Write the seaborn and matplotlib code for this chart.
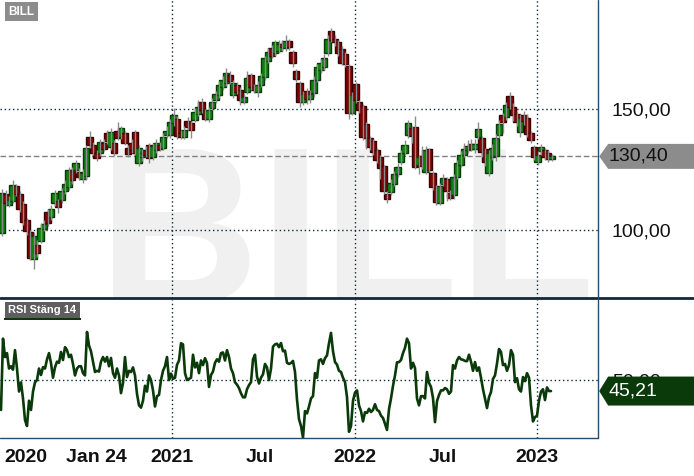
import matplotlib
matplotlib.use("Agg")
import matplotlib.pyplot as plt
import matplotlib.dates as mdates
from matplotlib.lines import Line2D
from matplotlib.patches import Polygon, Rectangle
from matplotlib.transforms import blended_transform_factory
import numpy as np
import pandas as pd
import seaborn as sns

# weekly candles, BILL
candle_start = "2020-01-27"
opens = [
    98.8, 115, 110.5, 112, 118, 115, 110.7, 104, 99, 88,
    94, 95.5, 100.4, 107.4, 105.4, 111.2, 112, 112.4, 116, 117.8,
    124.8, 124.8, 124, 121, 122.3, 138.4, 135, 132, 131.8, 136,
    140, 134.3, 136, 141, 138.4, 140, 134, 136, 140.5, 127.7,
    130, 133, 135, 130, 133, 135, 134, 139.2, 139.2, 144.2,
    146, 140, 138.5, 145, 144, 145.5, 148, 153, 149, 146,
    150.5, 153.7, 155.8, 159, 160.7, 164, 155.8, 160, 157.8, 153,
    157, 164, 159, 157, 160, 163, 170, 175, 173, 174,
    177, 175, 178, 173.5, 165.7, 160.7, 153, 157.5, 154, 156.6,
    162, 166, 167.4, 173, 182, 179, 177.7, 174.8, 172.7, 167.8,
    148.5, 160.3, 152.9, 151.2, 143.8, 138, 136.8, 133, 130, 126.4,
    115, 115.7, 119, 123, 128, 132, 139.3, 142, 142.6, 127,
    130.5, 124, 133.5, 123.5, 117.5, 111.2, 119, 121, 115.3, 114.5,
    122, 127, 131, 133, 135.5, 133.5, 138.4, 138, 133.5, 123.5,
    130, 130.6, 139.3, 147.5, 146.7, 155.4, 151, 147.8, 140.5, 147.5,
    146.3, 140, 134.3, 128, 132.5, 133, 131.8, 129.5,
]
closes = [
    115.3, 111, 112.5, 118.5, 115, 108.6, 103.3, 99.6, 88.5, 97.5,
    90.5, 101, 102.5, 102.9, 108.7, 115.3, 109.5, 116, 119, 124.8,
    120.7, 127.7, 122, 123.5, 134, 135.1, 132, 129.7, 136.4, 133.5,
    136.8, 140.5, 131.8, 138, 142, 136, 131.5, 133, 132, 134,
    132, 131, 129.7, 134.7, 136, 133.5, 138.4, 141, 144.6, 147.5,
    139, 138.5, 141.5, 142.5, 141.5, 148.8, 151, 149.6, 146, 149.5,
    153, 156, 160, 162, 165, 161.5, 160.7, 157, 153.7, 155,
    162.8, 159, 158, 160, 163.5, 171, 173.5, 172, 177.5, 177,
    175.5, 178, 175.6, 169, 162.4, 153, 156, 154, 156, 162,
    167.4, 169, 171, 179, 178.5, 177.5, 173, 169, 168.6, 148.3,
    155.8, 153.7, 149.6, 138.4, 138, 134.3, 132.2, 129, 125.6, 116,
    112.8, 119.4, 123, 126, 131.8, 135, 144.2, 139, 126, 130,
    126.5, 133, 124.8, 117.8, 111.5, 118, 121.5, 116, 113.3, 122,
    127.7, 131, 133.5, 134.7, 133.5, 135.5, 141.7, 132.2, 128, 131.8,
    134, 138, 143.8, 144.6, 151.7, 150.8, 147.5, 144.6, 146.3, 145,
    139.7, 137.2, 130.2, 131, 134.3, 130.2, 129.3, 130.4,
]
highs = [
    117, 116.5, 114, 120.5, 119, 116, 112, 105, 100, 99,
    96, 103, 104, 108.5, 110.5, 116.5, 113, 117.5, 120.5, 126,
    126, 129, 125.5, 125, 135, 141, 136.5, 133, 137.5, 137.5,
    141.5, 142, 137, 144.5, 143, 141, 135, 137.5, 141.5, 135,
    133.5, 134.5, 136, 136, 137.5, 136.5, 140, 143, 146, 150.5,
    147, 141.5, 143, 146.5, 145, 150.5, 153.5, 154.5, 150, 151,
    154.5, 157.5, 161.5, 163.5, 167, 165.5, 162, 161, 159, 156.5,
    165.5, 165, 160.5, 161.5, 165, 172, 175, 176.5, 178.5, 178.5,
    178.5, 180.5, 179, 174.5, 166.5, 161.5, 157.5, 158.5, 158, 163.5,
    168.5, 170.5, 172.5, 180.5, 183.5, 180.5, 178.5, 176, 173.5, 168.5,
    157, 161, 153.5, 152, 144.5, 139, 137.5, 134, 131, 127,
    116, 121, 124.5, 127.5, 133, 137, 145.5, 143, 147, 131,
    134.5, 134.5, 134, 124.5, 118.5, 119.5, 123, 122, 116.5, 123,
    129, 132.5, 136, 137, 137.5, 137.5, 144.5, 139, 134, 133,
    135.5, 139.5, 145.5, 148.5, 153, 157, 152.5, 149, 148, 149,
    148, 141, 135, 132.5, 135.5, 134, 133, 131.5,
]
lows = [
    97.5, 110, 109.5, 111, 114, 107.5, 102, 98, 87.5, 84,
    89, 94.5, 99.5, 101.5, 104, 110, 107, 111, 115, 116.5,
    119, 123.5, 120.5, 119.5, 120.5, 134, 131, 128.5, 130.5, 132.5,
    135.5, 133, 130.5, 137, 137.5, 135, 130, 132, 131, 126.5,
    128.5, 130, 127.5, 129, 132, 132.5, 133, 138, 138, 143,
    137.5, 137.5, 137.5, 141.5, 138, 144.5, 147, 148.5, 145, 144.5,
    149.5, 152.5, 154.5, 158, 159.5, 160.5, 154.5, 156, 151.5, 152,
    156, 158, 156.5, 155, 159, 162, 169, 171, 172, 173,
    174, 174, 174.5, 167.5, 161, 151, 151.5, 152, 152.5, 155,
    161, 165, 166, 172, 177.5, 176, 172, 168, 167.5, 146,
    147.5, 152.5, 148.5, 137, 133.5, 133, 131, 127.5, 121, 115,
    111, 114.5, 118, 122, 127, 131, 138, 136, 125, 123,
    125, 123, 124, 116.5, 110.5, 110.5, 118, 112, 112.5, 113,
    121, 126, 130, 132, 132.5, 132, 137.5, 130, 126.5, 122.5,
    129, 128.5, 138, 140, 145.5, 150, 145, 143, 138.5, 143.5,
    138.5, 136, 129, 127, 131, 129, 128, 128.5,
]

# RSI (close, 14), sampled every 4 days
rsi_start = "2020-01-25"
rsi_values = [
    37, 68, 60, 61.7, 55, 56, 54.5, 63, 55, 45,
    49, 42, 32.6, 30, 41, 37, 45, 49, 50, 55,
    52.2, 55.6, 55, 59, 61.7, 57.4, 51, 55.5, 58, 57.5,
    62.2, 58.7, 64.3, 63, 60, 61, 57, 52, 55, 56,
    56, 53, 52, 70.9, 65, 62.5, 58, 53.5, 54, 53.7,
    58, 60, 58, 60, 56, 59.6, 53, 51, 55, 52,
    44.3, 48.7, 60, 51.3, 54, 53.5, 55.5, 52, 44, 39,
    38, 41, 47.5, 45, 52, 50, 45.5, 38.5, 43, 43.5,
    50, 54, 56, 60, 50, 52.8, 50.5, 51, 56.6, 58.5,
    66, 65.5, 53, 50, 50.5, 51, 61, 55.5, 57.5, 53,
    58.5, 56.5, 59.5, 57.4, 47, 52.2, 53.7, 57.5, 59, 58,
    61.7, 62, 58.5, 63, 60, 55, 53, 49, 48, 46.5,
    44.2, 42.5, 42.5, 46, 47.8, 49.1, 59, 61, 51.5, 48.5,
    51, 52.5, 57, 55.5, 50, 55, 64.5, 65.5, 65.8, 64.3,
    66.1, 62.5, 62.8, 57.5, 57, 57.4, 58.3, 53.5, 41.5, 33,
    30, 25, 36.5, 35.5, 38.5, 42, 43, 53, 51, 58.5,
    59, 57, 59.5, 60.7, 66, 70.5, 62.5, 57.8, 56.7, 54,
    53.5, 51, 49.1, 42.6, 27.5, 30, 41, 44.5, 45.5, 39,
    36.5, 32, 36, 35.7, 37.5, 36.1, 37, 39.5, 37, 36.5,
    34.5, 33.5, 31, 28.3, 37.3, 42, 47.5, 52, 57.7, 57.8,
    58.7, 61.7, 64, 68, 66, 55, 57.5, 55.2, 42, 39,
    43, 43, 42, 53.5, 48.8, 47, 42.2, 31.7, 40.8, 43.5,
    45.5, 45.5, 46.5, 46, 44, 45, 56.5, 55, 58.5, 60,
    59, 58.8, 58.3, 58.2, 61, 58, 54, 57.8, 54, 55.5,
    51, 46, 42, 37.8, 42.5, 44.8, 50.5, 52, 57.2, 63.5,
    62.2, 56.5, 57, 54, 56.5, 63, 61, 49.1, 50.8, 46,
    45, 51.3, 49.5, 53, 51, 39, 32, 33.9, 34.5, 41,
    45, 46, 41.3, 46.8, 45.2, 45.21,
]

last_price = 130.40
last_price_label = "130,40"
last_rsi_label = "45,21"
price_ticks = [100, 150]
price_labels = ["100,00", "150,00"]
rsi_ticks = [50]
rsi_labels = ["50,00"]
date_ticks = ["2020-01-31", "2020-08-02", "2021-01-01", "2021-06-26",
              "2022-01-01", "2022-06-27", "2023-01-01"]
date_labels = ["2020", "Jan 24", "2021", "Jul", "2022", "Jul", "2023"]
event_dates = ["2020-05-06", "2021-05-05", "2022-05-11", "2022-05-29"]
grid_dates = ["2021-01-01", "2022-01-01", "2023-01-01"]

df = pd.DataFrame({
    "date": pd.date_range(candle_start, periods=len(opens), freq="7D"),
    "open": opens, "close": closes, "high": highs, "low": lows,
})
df["x"] = mdates.date2num(df["date"])
df["up"] = df["close"] >= df["open"]

rsi = pd.DataFrame({
    "date": pd.date_range(rsi_start, periods=len(rsi_values), freq="4D"),
    "rsi": rsi_values,
})
rsi["x"] = mdates.date2num(rsi["date"])

sns.set_style("white")
plt.rcParams["font.family"] = ["Liberation Sans", "DejaVu Sans"]

W, H = 694, 476
fig = plt.figure(figsize=(W / 100, H / 100), dpi=100)
ax = fig.add_axes([0, 1 - 298 / H, 598 / W, 298 / H])
ax_rsi = fig.add_axes([0, 1 - 438 / H, 598 / W, 138 / H], sharex=ax)

xmin = mdates.datestr2num("2020-01-23")
xmax = mdates.datestr2num("2023-05-03")
ymin, ymax = 71.9, 195.0
rmin, rmax = 24.8, 84.8
grid_c = "#0a2a40"
frame_c = "#2a4a6a"

# main panel
ax.set_xlim(xmin, xmax)
ax.set_ylim(ymin, ymax)
ax.text(98 / 598, 1 - 304 / 298, "BILL", transform=ax.transAxes,
        fontsize=161, fontweight="bold", color="#f0f0f0",
        ha="left", va="baseline", zorder=0, clip_on=True)
for p in price_ticks:
    ax.axhline(p, color=grid_c, lw=1, ls=(0, (1, 2)), zorder=1)
for d in grid_dates:
    ax.axvline(mdates.datestr2num(d), color=grid_c, lw=1, ls=(0, (1, 2)), zorder=1)
ax.axhline(last_price, color="#808080", lw=1, ls=(0, (4, 2)), zorder=1)

body_bottom = np.minimum(df["open"], df["close"])
body_h = np.maximum(np.abs(df["close"] - df["open"]), 0.4)
fills = np.where(df["up"], "#0a840a", "#820000")
edges = np.where(df["up"], "#053a05", "#3a0000")
ax.bar(df["x"], body_h, bottom=body_bottom, width=13, color=fills,
       edgecolor=edges, linewidth=1, zorder=3)
ax.vlines(df["x"], df["low"], df["high"], color="#8c8c8c", lw=1, zorder=4)

ax.yaxis.tick_right()
ax.set_yticks(price_ticks, price_labels)
ax.tick_params(axis="y", length=0, pad=10, labelsize=14, labelcolor="#111111")
ax.tick_params(axis="x", which="both", bottom=False, labelbottom=False)

tr = blended_transform_factory(ax.transAxes, ax.transData)
hh = 12.5 * (ymax - ymin) / 298
ax.add_patch(Polygon([(1.002, last_price), (1.017, last_price + hh), (1.2, last_price + hh),
                      (1.2, last_price - hh), (1.017, last_price - hh)],
                     closed=True, transform=tr, fc="#8c8c8c", ec="none", clip_on=False, zorder=5))
ax.text(1.017, last_price, last_price_label, transform=tr, ha="left", va="center",
        fontsize=14, color="#111111", clip_on=False, zorder=6)

ax.text(0.036, 0.961, "BILL", transform=ax.transAxes, ha="center", va="center",
        color="white", fontsize=8.5, fontweight="bold", zorder=6,
        bbox=dict(boxstyle="square,pad=0.3", fc="#8c8c8c", ec="none"))

# RSI panel
ax_rsi.set_ylim(rmin, rmax)
for r in rsi_ticks:
    ax_rsi.axhline(r, color=grid_c, lw=1, ls=(0, (1, 2)), zorder=1)
for d in grid_dates:
    ax_rsi.axvline(mdates.datestr2num(d), color=grid_c, lw=1, ls=(0, (1, 2)), zorder=1)
sns.lineplot(data=rsi, x="x", y="rsi", ax=ax_rsi, color="#0a3a0a", lw=1.9, zorder=3)
ax_rsi.set_xlabel("")
ax_rsi.set_ylabel("")

ax_rsi.yaxis.tick_right()
ax_rsi.set_yticks(rsi_ticks, rsi_labels)
ax_rsi.tick_params(axis="y", length=0, pad=10, labelsize=14, labelcolor="#111111")

tr_r = blended_transform_factory(ax_rsi.transAxes, ax_rsi.transData)
last_rsi = rsi_values[-1]
hr = 14.5 * (rmax - rmin) / 138
ax_rsi.add_patch(Polygon([(1.002, last_rsi), (1.017, last_rsi + hr), (1.2, last_rsi + hr),
                          (1.2, last_rsi - hr), (1.017, last_rsi - hr)],
                         closed=True, transform=tr_r, fc="#0a3a0a", ec="none", clip_on=False, zorder=5))
ax_rsi.text(1.017, last_rsi, last_rsi_label, transform=tr_r, ha="left", va="center",
            fontsize=14, color="white", clip_on=False, zorder=6)

ax_rsi.text(0.071, 0.924, "RSI Stäng 14", transform=ax_rsi.transAxes, ha="center", va="center",
            color="white", fontsize=8, fontweight="bold", zorder=6,
            bbox=dict(boxstyle="square,pad=0.3", fc="#5e5e5e", ec="none"))
ax_rsi.add_patch(Rectangle((4 / 598, 1 - 20 / 138), 77 / 598, 2.5 / 138,
                           transform=ax_rsi.transAxes, fc="#0a3a0a", ec="none", zorder=6))

ax_rsi.set_xticks([mdates.datestr2num(d) for d in date_ticks], date_labels)
ax_rsi.set_xticks([mdates.datestr2num(d) for d in event_dates], minor=True)
ax_rsi.tick_params(axis="x", which="major", length=5, width=1, color=frame_c,
                   labelsize=14, pad=3, labelcolor="#111111")
ax_rsi.tick_params(axis="x", which="minor", length=5, width=1.5, color="#ff5a5a")
for lab in ax_rsi.get_xticklabels():
    lab.set_fontweight("bold")
ax_rsi.get_xticklabels()[0].set_horizontalalignment("left")
ax_rsi.set_xlim(xmin, xmax)

for a in (ax, ax_rsi):
    for s in a.spines.values():
        s.set_visible(False)

# frame lines
fig.add_artist(Line2D([0, 1], [1 - 298 / H, 1 - 298 / H], transform=fig.transFigure,
                      color="#14283a", lw=2))
fig.add_artist(Line2D([598 / W, 598 / W], [1 - 438 / H, 1], transform=fig.transFigure,
                      color=frame_c, lw=1))
fig.add_artist(Line2D([0, 598 / W], [1 - 438 / H, 1 - 438 / H], transform=fig.transFigure,
                      color=frame_c, lw=1))

fig.savefig("out.png", dpi=100)
